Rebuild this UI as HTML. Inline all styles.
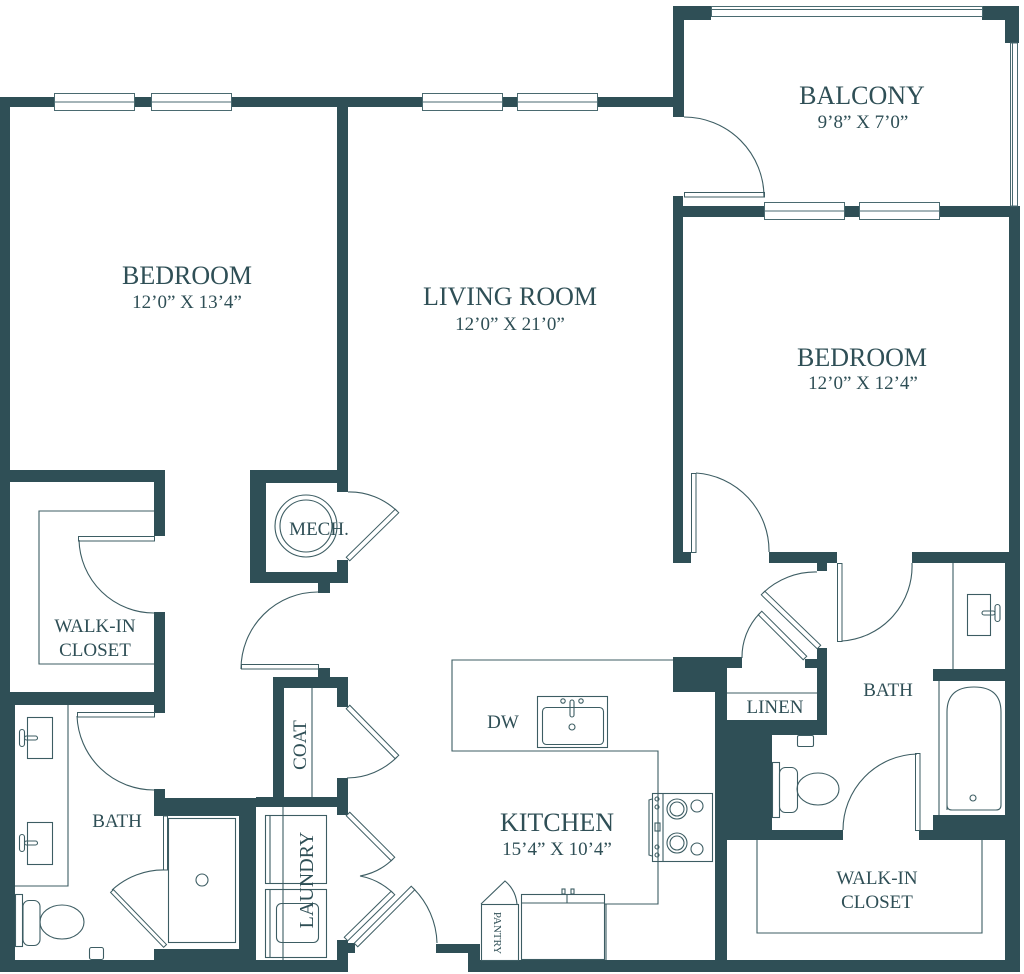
<!DOCTYPE html>
<html><head><meta charset="utf-8">
<style>
html,body{margin:0;padding:0;background:#fff;}
svg{display:block;}
text{font-family:"Liberation Serif",serif;fill:#2f4f56;}
</style></head><body>
<svg width="1024" height="974" viewBox="0 0 1024 974" xmlns="http://www.w3.org/2000/svg">
<rect x="0" y="0" width="1024" height="974" fill="#fff"/>
<g fill="#2f4f56">
<!-- top & left -->
<rect x="0" y="97" width="684" height="10"/>
<rect x="0" y="97" width="10" height="600"/>
<rect x="0" y="692" width="15" height="280"/>
<rect x="337" y="97" width="11" height="395"/>
<rect x="0" y="470" width="165" height="12"/>
<rect x="250" y="470" width="98" height="13"/>
<rect x="154" y="470" width="11" height="66"/>
<rect x="154" y="612" width="11" height="101"/>
<rect x="0" y="692" width="165" height="13"/>
<rect x="154" y="789" width="11" height="27"/>
<rect x="154" y="798" width="102" height="18"/>
<rect x="239" y="798" width="17" height="174"/>
<rect x="154" y="949" width="102" height="23"/>
<rect x="0" y="960" width="348" height="12"/>
<rect x="256" y="797" width="92" height="10"/>
<rect x="273" y="677" width="11" height="121"/>
<rect x="273" y="677" width="75" height="11"/>
<rect x="318" y="668" width="12" height="10"/>
<rect x="337" y="677" width="11" height="30"/>
<rect x="337" y="778" width="11" height="37"/>
<rect x="337" y="940" width="11" height="32"/>
<rect x="347" y="943" width="8" height="10"/>
<!-- mech -->
<rect x="250" y="470" width="16" height="113"/>
<rect x="250" y="572" width="98" height="11"/>
<rect x="337" y="560" width="11" height="23"/>
<rect x="318" y="583" width="12" height="10"/>
<!-- entry / bottom -->
<rect x="436" y="944" width="44" height="9"/>
<rect x="468" y="944" width="12" height="28"/>
<rect x="468" y="960" width="552" height="12"/>
<!-- balcony -->
<rect x="673" y="6" width="11" height="111"/>
<rect x="673" y="6" width="38" height="14"/>
<rect x="982" y="6" width="37" height="14"/>
<rect x="1005" y="6" width="14" height="37"/>
<!-- bedroom 2 -->
<rect x="673" y="206" width="347" height="11"/>
<rect x="673" y="196" width="10" height="367"/>
<rect x="683" y="552" width="8" height="11"/>
<rect x="769" y="552" width="68" height="11"/>
<rect x="817" y="563" width="10" height="8"/>
<rect x="912" y="552" width="108" height="11"/>
<rect x="1009" y="206" width="11" height="357"/>
<rect x="1005" y="552" width="15" height="420"/>
<!-- kitchen / linen / bath2 -->
<rect x="673" y="657" width="54" height="35"/>
<rect x="727" y="657" width="15" height="11"/>
<rect x="805" y="659" width="12" height="9"/>
<rect x="817" y="648" width="10" height="87"/>
<rect x="715" y="657" width="12" height="315"/>
<rect x="727" y="720" width="100" height="15"/>
<rect x="715" y="735" width="57" height="105"/>
<rect x="727" y="830" width="116" height="10"/>
<rect x="919" y="830" width="91" height="10"/>
<rect x="933" y="815" width="77" height="25"/>
<rect x="933" y="669" width="77" height="12"/>
</g>

<!-- windows -->
<g fill="#fff" stroke="#4a6a70" stroke-width="1">
<rect x="54.5" y="93.5" width="80" height="17"/>
<rect x="151.5" y="93.5" width="80" height="17"/>
<rect x="422.5" y="93.5" width="80" height="17"/>
<rect x="517.5" y="93.5" width="80" height="17"/>
<rect x="764.5" y="202.5" width="80" height="17"/>
<rect x="859.5" y="202.5" width="80" height="17"/>
<rect x="711.5" y="6.5" width="271" height="10"/>
<rect x="1010.5" y="43" width="7" height="163"/>
</g>
<g stroke="#4a6a70" stroke-width="1" fill="none">
<path d="M54,102H135M151,102H232M422,102H503M517,102H598M764,211H845M859,211H940M711,9.5H982M1012.5,43V206"/>
</g>

<!-- door leaves -->
<g fill="#fff" stroke="#3d5d63" stroke-width="1">
<rect x="684.5" y="192.5" width="80" height="4.5"/>
<rect x="78.5" y="536.5" width="76" height="4.5"/>
<rect x="77.5" y="712.5" width="77" height="4.5"/>
<rect x="241.5" y="664.5" width="77" height="4.5"/>
<rect x="691.5" y="473.5" width="4.5" height="79"/>
<rect x="837.5" y="563.5" width="4.5" height="78"/>
<rect x="915.5" y="753.5" width="4.5" height="77"/>
<rect x="163.5" y="816" width="4" height="54"/>
<rect x="0" y="-2.5" width="68.6" height="5" transform="translate(348,559) rotate(-44.4)"/>
<rect x="0" y="-2.5" width="70" height="5" transform="translate(348,707) rotate(45.6)"/>
<rect x="0" y="-2.5" width="63.6" height="5" transform="translate(348,814) rotate(45)"/>
<rect x="0" y="-2.5" width="65.8" height="5" transform="translate(346,939) rotate(-44.4)"/>
<rect x="0" y="-2.5" width="80.6" height="5" transform="translate(356,945) rotate(-45)"/>
<rect x="0" y="-2" width="76.4" height="4" transform="translate(112,891) rotate(46)"/>
<rect x="0" y="-2.5" width="77.8" height="5" transform="translate(763,593) rotate(44)"/>
<rect x="0" y="-2.5" width="63.6" height="5" transform="translate(760,613) rotate(45)"/>
</g>

<!-- door arcs -->
<g fill="none" stroke="#3d5d63" stroke-width="1.1">
<path d="M684,117 A80,80 0 0,1 764,197"/>
<path d="M79,540 A75,75 0 0,0 154,613"/>
<path d="M77,716 A77,77 0 0,0 154,790"/>
<path d="M318,592 A77,77 0 0,0 241,669"/>
<path d="M348,492 A69,69 0 0,1 397,511"/>
<path d="M397,757 A71,71 0 0,1 347,778"/>
<path d="M393,859 A63,63 0 0,1 360,876"/>
<path d="M393,893 A65,65 0 0,0 360,876"/>
<path d="M413,888 A80,80 0 0,1 437,943"/>
<path d="M112,890 A76,76 0 0,1 165,870"/>
<path d="M696,473 A78,78 0 0,1 769,552"/>
<path d="M842,641 A75,75 0 0,0 912,563"/>
<path d="M817,572 A76,76 0 0,0 763,593"/>
<path d="M760,613 A63,63 0 0,0 742,658"/>
<path d="M843,830 A76,76 0 0,1 917,754"/>
<path d="M481,904 L505,881 A34,34 0 0,1 517,904"/>
</g>

<!-- fixtures -->
<g fill="none" stroke="#3d5d63" stroke-width="1.1">
<path d="M154,511 H39 V664 H154"/>
<path d="M68,705 V886 H15"/>
<rect x="27.5" y="717.5" width="25" height="41"/>
<rect x="27.5" y="822.5" width="25" height="42"/>
<rect x="19.5" y="729.5" width="5" height="17" rx="2.5"/>
<rect x="24.5" y="736" width="13" height="4" rx="2"/>
<rect x="19.5" y="834.5" width="5" height="17" rx="2.5"/>
<rect x="24.5" y="841" width="13" height="4" rx="2"/>
<rect x="15.5" y="894.5" width="7" height="52"/>
<rect x="23" y="900.5" width="17" height="45" rx="6"/>
<ellipse cx="62" cy="922" rx="22" ry="17"/>
<rect x="89.5" y="947.5" width="14" height="12" rx="2"/>
<rect x="168.5" y="818.5" width="67" height="124"/>
<circle cx="202" cy="880" r="6"/>
<path d="M312,688 V797"/>
<rect x="265.5" y="815.5" width="61" height="68"/>
<rect x="265.5" y="889.5" width="61" height="68"/>
<path d="M270,815V883M270,889V957M283,807V960"/>
<rect x="276.5" y="903.5" width="42" height="39" rx="5"/>
<circle cx="306" cy="526" r="31"/>
<circle cx="306" cy="526" r="26"/>
<path d="M673,660 H452 V751 H658 V904 H605"/>
<rect x="537.5" y="696.5" width="70" height="51"/>
<rect x="542.5" y="707.5" width="61" height="37" rx="4"/>
<circle cx="563" cy="701" r="2.2"/>
<circle cx="581" cy="701" r="2.2"/>
<rect x="570" y="700" width="4" height="17" rx="2"/>
<circle cx="572" cy="727" r="3"/>
<rect x="652.5" y="793.5" width="60" height="68"/>
<path d="M663,793V861"/>
<circle cx="677" cy="809" r="10"/>
<circle cx="677" cy="809" r="7"/>
<circle cx="697" cy="806" r="6"/>
<circle cx="677" cy="843" r="10"/>
<circle cx="677" cy="843" r="7"/>
<circle cx="697" cy="849" r="6"/>
<circle cx="657" cy="799" r="2"/>
<circle cx="657" cy="807" r="2"/>
<circle cx="657" cy="847" r="2"/>
<circle cx="657" cy="855" r="2"/>
<rect x="655" y="823" width="5" height="8"/>
<path d="M652,799 L649,800 V855 L652,856"/>
<rect x="521.5" y="894.5" width="83" height="65"/>
<path d="M521,903H604M567,894V903M606,904V960"/>
<rect x="562" y="889" width="3" height="5"/>
<rect x="571" y="889" width="3" height="5"/>
<rect x="481.5" y="904.5" width="37" height="56"/>
<path d="M953,563V669"/>
<rect x="967.5" y="594.5" width="23" height="41"/>
<rect x="982" y="611" width="13" height="4" rx="2"/>
<rect x="995" y="604.5" width="5" height="17" rx="2.5"/>
<path d="M939,681V815"/>
<path d="M947,810 V712 Q947,687 974,687 Q1001,687 1001,712 V805 Q1001,810 996,810 H952 Q947,810 947,805 Z"/>
<circle cx="973" cy="798" r="3"/>
<rect x="772.5" y="762.5" width="7" height="55"/>
<rect x="779.5" y="767.5" width="18" height="45" rx="6"/>
<ellipse cx="818" cy="789" rx="21" ry="16"/>
<rect x="797.5" y="735.5" width="16" height="11" rx="1.5"/>
<path d="M727,693H817"/>
<path d="M757,840 V933 H982 V840"/>
</g>

<!-- labels -->
<g text-anchor="middle">
<text x="187" y="284" font-size="26">BEDROOM</text>
<text x="187" y="308" font-size="19">12’0” X 13’4”</text>
<text x="510" y="305" font-size="26">LIVING ROOM</text>
<text x="510" y="330" font-size="19">12’0” X 21’0”</text>
<text x="862" y="104" font-size="26">BALCONY</text>
<text x="863" y="128" font-size="19">9’8” X 7’0”</text>
<text x="862" y="366" font-size="26">BEDROOM</text>
<text x="863" y="389" font-size="19">12’0” X 12’4”</text>
<text x="557" y="831" font-size="26">KITCHEN</text>
<text x="557" y="855" font-size="19">15’4” X 10’4”</text>
<text x="95" y="632" font-size="19">WALK-IN</text>
<text x="95" y="656" font-size="19">CLOSET</text>
<text x="117" y="827" font-size="19">BATH</text>
<text x="319" y="535" font-size="19">MECH.</text>
<text x="503" y="728" font-size="19">DW</text>
<text x="775" y="713" font-size="19">LINEN</text>
<text x="888" y="696" font-size="19">BATH</text>
<text x="877" y="884" font-size="19">WALK-IN</text>
<text x="877" y="908" font-size="19">CLOSET</text>
<text transform="translate(306,745) rotate(-90)" font-size="19">COAT</text>
<text transform="translate(313,880) rotate(-90)" font-size="20">LAUNDRY</text>
<text transform="translate(494,933) rotate(90)" font-size="11">PANTRY</text>
</g>
</svg>
</body></html>
